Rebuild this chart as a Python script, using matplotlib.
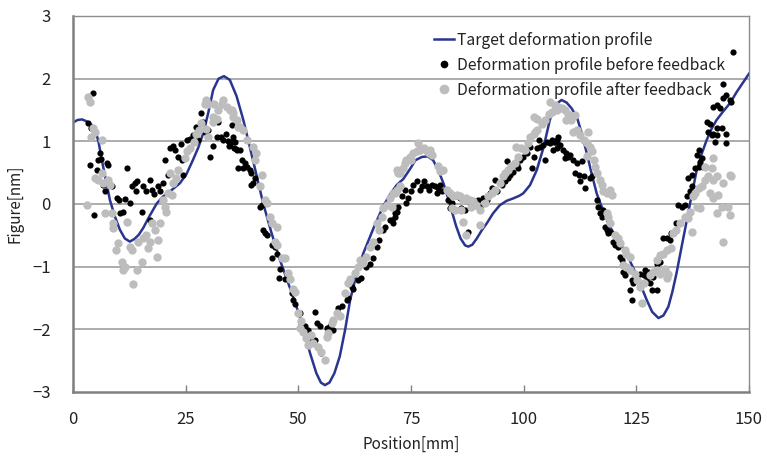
import matplotlib
matplotlib.use("Agg")
import matplotlib.pyplot as plt
from matplotlib.lines import Line2D

plt.rcParams['font.family'] = ['Noto Sans CJK JP', 'DejaVu Sans']

# Target deformation profile
target_x = [0, 1, 2, 3, 4, 4.9, 5.7, 6.4, 7.3, 8.2, 9.3, 10.4, 11.5, 12.6, 13.6, 14.6, 15.6, 17, 18.6, 20,
            21.5, 23.7, 25.2, 26.6, 27.8, 28.9, 30, 31.1, 32.3, 33.5, 34.8, 36.3, 37.8, 40, 42.2, 44, 45.9,
            47.8, 49.6, 51.1, 52.6, 54, 55, 55.9, 56.9, 58, 59.2, 60.4, 61.5, 62.9, 64.4, 66.6, 68.8, 70.5,
            71.8, 73.3, 74.8, 76, 77.4, 78.7, 79.9, 81, 82.2, 83.2, 84, 85, 86, 87, 87.7, 88.6, 89.6, 90.7,
            91.8, 93.2, 94.7, 96.2, 97.7, 99, 99.9, 101.4, 102.9, 104.4, 105.8, 107, 108.4, 109.5, 110.6,
            111.8, 113, 114, 115.1, 116.2, 117.6, 119.1, 121, 122.8, 124.5, 126, 127.3, 128.5, 129.9, 131,
            132.1, 133, 133.9, 135, 136.2, 137.3, 138.4, 139.5, 140.6, 141.7, 142.8, 144.3, 145.8, 147.2,
            148.6, 150]
target_y = [1.30, 1.34, 1.35, 1.32, 1.27, 1.2, 0.98, 0.70, 0.38, 0.06, -0.2, -0.41, -0.55, -0.60, -0.56,
            -0.49, -0.38, -0.19, 0.01, 0.12, 0.2, 0.33, 0.48, 0.7, 0.9, 1.13, 1.45, 1.82, 2.0, 2.04, 1.98,
            1.72, 1.34, 0.68, 0.01, -0.45, -0.89, -1.27, -1.64, -1.98, -2.38, -2.7, -2.85, -2.89, -2.85,
            -2.7, -2.43, -2.0, -1.53, -1.12, -0.79, -0.4, -0.04, 0.17, 0.3, 0.4, 0.56, 0.7, 0.75, 0.76,
            0.70, 0.55, 0.33, 0.1, -0.1, -0.35, -0.55, -0.66, -0.68, -0.65, -0.55, -0.42, -0.31, -0.15,
            -0.02, 0.05, 0.09, 0.13, 0.17, 0.3, 0.54, 0.9, 1.34, 1.58, 1.66, 1.62, 1.53, 1.39, 1.1, 0.81,
            0.48, 0.17, -0.1, -0.36, -0.58, -0.79, -1.05, -1.3, -1.53, -1.72, -1.82, -1.78, -1.64, -1.4,
            -1.11, -0.7, -0.26, 0.15, 0.54, 0.8, 1.02, 1.2, 1.34, 1.48, 1.61, 1.78, 1.93, 2.08]

# Deformation profile before feedback
before_x = [4.4, 3.4, 4.1, 6.0, 5.6, 3.8, 6.3, 7.5, 7.8, 5.3, 6.7, 7.1, 8.6, 9.7, 10.1, 11.9, 11.5, 12.6,
            11.2, 10.4, 4.7, 15.2, 13.0, 13.8, 14.2, 14.0, 15.6, 16.3, 17.1, 17.5, 17.9, 18.9, 19.2, 17.1,
            20.0, 20.4, 21.1, 21.5, 22.3, 22.7, 23.4, 24.1, 24.5, 24.0, 25.2, 25.9, 26.6, 27.4, 27.7, 28.5,
            28.9, 29.2, 29.9, 30.4, 31.1, 31.9, 32.2, 32.9, 33.3, 33.9, 34.3, 34.7, 35.4, 35.8, 36.2, 36.7,
            35.2, 35.6, 36.0, 36.3, 34.8, 37.1, 37.4, 38.2, 38.5, 37.8, 39.3, 39.6, 40.0, 40.4, 39.6,
            41.9, 41.5, 42.2, 42.6, 43.0, 44.1, 44.8, 44.1, 45.2, 45.9, 45.6, 47.1, 48.5, 48.9, 49.2,
            50.4, 50.7, 51.5, 52.2, 52.9, 52.6, 53.7, 54.1, 54.8, 54.4, 55.1, 53.7, 56.3, 57.0, 57.8,
            58.9, 59.6, 60.7, 61.0, 61.8, 62.2, 63.3, 63.8, 65.1, 65.9, 66.6, 67.4, 67.8, 68.8, 69.2,
            70.3, 71.1, 71.4, 71.8, 70.7, 71.5, 72.2, 72.9, 73.6, 74.4, 74.0, 75.1, 75.5, 76.3, 77.0,
            77.4, 77.8, 78.5, 78.9, 79.6, 80.4, 81.1, 81.4, 81.8, 80.7, 83.3, 84.0, 83.7, 85.1, 85.8,
            86.6, 86.2, 87.0, 87.7, 88.4, 89.2, 89.9, 90.3, 91.0, 91.8, 92.5, 92.9, 93.6, 94.0, 95.1,
            95.8, 96.2, 96.6, 97.0, 97.7, 98.5, 98.8, 99.2, 99.9, 100.7, 101.4, 101.8, 102.2, 102.9,
            103.7, 103.3, 104.4, 105.2, 105.9, 106.7, 107.4, 107.8, 104.8, 106.2, 106.9, 107.6, 108.0,
            107.3, 106.5, 108.8, 109.5, 110.3, 109.1, 109.8, 111.0, 111.8, 112.9, 111.4, 112.2, 113.3,
            112.5, 113.6, 114.7, 115.1, 116.2, 116.5, 116.9, 117.3, 117.6, 118.0, 118.4, 118.7, 119.1,
            119.9, 120.3, 120.6, 121.0, 121.4, 121.8, 122.1, 122.5, 123.2, 124.0, 124.7, 124.3, 123.6,
            124.0, 125.8, 126.6, 127.3, 126.9, 127.6, 128.0, 128.4, 129.5, 128.7, 129.5, 130.2, 131.0,
            131.7, 132.5, 132.8, 133.9, 134.3, 135.1, 135.8, 136.2, 136.9, 137.3, 136.5, 137.3, 138.0,
            138.8, 139.1, 139.5, 139.9, 138.4, 138.8, 142.4, 142.8, 140.6, 141.3, 140.9, 141.7, 142.0,
            142.8, 143.9, 145.0, 142.1, 142.8, 143.6, 144.3, 145.0, 145.7, 146.1, 144.3, 146.5, 145.0]
before_y = [1.77, 1.29, 1.21, 0.81, 0.70, 0.62, 0.72, 0.65, 0.62, 0.54, 0.30, 0.20, 0.28, 0.09, 0.07,
            0.57, 0.08, 0.01, -0.12, -0.15, -0.18, -0.12, 0.28, 0.33, 0.36, 0.20, 0.28, 0.21, 0.38, 0.22,
            0.16, 0.28, 0.20, -0.26, 0.33, 0.70, 0.46, 0.89, 0.92, 0.86, 0.75, 0.70, 0.46, 0.96, 1.02,
            1.04, 1.10, 1.23, 1.02, 1.45, 1.31, 1.15, 1.18, 0.75, 0.93, 1.07, 1.31, 1.07, 1.02, 1.12,
            1.00, 0.93, 1.00, 0.90, 0.88, 0.57, 1.26, 1.07, 0.99, 0.86, 0.96, 0.86, 0.70, 0.65, 0.59,
            0.57, 0.54, 0.49, 0.33, 0.41, 0.30, -0.02, -0.04, -0.41, -0.46, -0.49, -0.65, -0.68, -0.86,
            -0.79, -1.03, -1.18, -1.20, -1.42, -1.53, -1.59, -1.74, -1.90, -1.95, -2.01, -2.12, -2.14,
            -1.72, -1.90, -1.95, -2.28, -2.38, -2.17, -1.98, -1.95, -2.01, -1.66, -1.63, -1.53, -1.50,
            -1.32, -1.36, -1.21, -1.18, -1.00, -0.96, -0.86, -0.68, -0.57, -0.41, -0.36, -0.26, -0.31,
            -0.15, -0.12, -0.26, -0.20, -0.04, 0.12, 0.22, 0.09, 0.01, 0.20, 0.30, 0.36, 0.22, 0.28,
            0.36, 0.28, 0.22, 0.30, 0.28, 0.25, 0.30, 0.20, 0.17, 0.06, 0.01, -0.06, 0.12, 0.09, 0.06,
            -0.07, -0.10, -0.44, -0.01, 0.04, 0.06, -0.04, 0.09, 0.06, 0.17, 0.25, 0.38, 0.20, 0.30,
            0.36, 0.68, 0.41, 0.46, 0.51, 0.62, 0.57, 0.70, 0.75, 0.81, 0.91, 0.57, 0.75, 0.89, 0.91,
            1.02, 0.94, 0.99, 0.97, 0.99, 1.02, 0.94, 0.70, 1.02, 0.99, 1.07, 0.94, 0.89, 0.86, 0.86,
            0.81, 0.78, 0.73, 0.75, 0.70, 0.65, 0.68, 0.49, 0.46, 0.44, 0.36, 0.25, 0.41, 0.44, 0.06,
            -0.04, -0.15, -0.20, -0.10, -0.36, -0.41, -0.46, -0.44, -0.60, -0.65, -0.63, -0.68, -0.84,
            -0.89, -1.08, -1.13, -1.05, -1.21, -1.18, -1.26, -1.37, -1.53, -1.11, -1.13, -1.18, -1.05,
            -1.08, -1.26, -1.37, -1.37, -1.16, -0.95, -0.92, -0.55, -0.55, -0.57, -0.46, -0.31, -0.02,
            -0.04, -0.02, 0.12, 0.20, 0.28, 0.41, 0.46, 0.57, 0.59, 0.67, 0.73, 0.59, 0.78, 0.86, 0.99,
            1.10, 1.31, 1.28, 1.15, 1.10, 1.12, 1.21, 1.21, 1.12, 1.55, 1.58, 1.53, 1.69, 1.74, 1.66,
            1.63, 1.92, 2.43, 0.97]

# Deformation profile after feedback
after_x = [3.4, 3.8, 4.5, 4.9, 6.4, 4.1, 3.0, 4.9, 5.6, 6.4, 6.7, 7.8, 8.2, 7.1, 8.6, 8.9, 8.9, 11.9,
           10.0, 9.6, 10.8, 11.2, 11.5, 13.0, 12.6, 13.4, 14.1, 15.2, 14.5, 15.6, 16.3, 16.6, 17.0, 18.2,
           18.9, 18.6, 19.3, 17.5, 20.4, 20.7, 20.0, 21.1, 21.9, 22.2, 22.9, 23.3, 21.5, 24.8, 25.2, 25.9,
           26.8, 27.3, 28.0, 28.5, 29.6, 29.9, 29.3, 29.6, 31.1, 31.9, 31.1, 32.2, 33.0, 33.3, 34.1, 34.9,
           35.6, 36.3, 36.7, 29.9, 31.3, 35.2, 35.6, 37.1, 37.8, 38.5, 40.0, 40.7, 40.4, 41.9, 41.5, 42.6,
           43.0, 43.7, 44.1, 45.2, 44.8, 45.2, 46.3, 47.1, 47.8, 48.1, 48.9, 49.2, 50.0, 50.7, 50.4, 51.1,
           51.8, 52.2, 52.9, 53.3, 54.4, 55.1, 55.9, 56.3, 56.6, 57.4, 57.8, 58.5, 59.2, 60.3, 61.0, 61.4,
           62.5, 63.3, 63.6, 64.4, 65.1, 65.9, 66.6, 67.4, 67.8, 68.5, 68.8, 69.6, 70.3, 71.1, 71.8, 72.2,
           70.7, 71.5, 71.8, 72.6, 72.6, 73.3, 73.7, 74.0, 74.8, 75.5, 76.3, 77.0, 77.8, 78.5, 78.9, 79.3,
           79.6, 76.6, 75.1, 81.1, 81.4, 82.2, 82.9, 83.7, 84.4, 85.1, 85.8, 86.6, 87.3, 88.1, 88.8, 89.5,
           90.3, 88.4, 84.7, 84.0, 86.2, 86.6, 87.3, 90.3, 91.4, 92.1, 92.9, 93.6, 94.7, 95.5, 95.8, 96.6,
           97.3, 98.1, 98.8, 98.4, 99.5, 100.3, 101.0, 101.4, 102.2, 102.9, 102.2, 102.9, 104.1, 104.8,
           105.6, 106.3, 107.4, 102.6, 105.8, 106.9, 107.6, 108.4, 109.1, 109.8, 110.2, 109.5, 110.6,
           111.4, 111.0, 111.8, 112.5, 114.3, 113.3, 114.0, 114.7, 115.1, 114.0, 115.5, 115.8, 116.2,
           116.9, 117.3, 117.6, 118.4, 119.5, 119.1, 118.4, 118.7, 119.1, 120.3, 121.0, 121.4, 122.5,
           122.8, 123.6, 122.1, 122.8, 123.6, 124.7, 125.1, 125.8, 126.6, 126.2, 128.0, 128.7, 129.5,
           130.2, 131.3, 132.1, 131.7, 129.5, 130.2, 131.0, 131.7, 132.8, 133.2, 133.9, 134.7, 135.8,
           136.5, 137.3, 137.6, 138.0, 138.8, 138.4, 139.1, 139.5, 140.2, 141.0, 142.1, 142.8, 144.3,
           146.1, 145.7, 140.2, 141.7, 142.1, 141.3, 142.1, 143.2, 142.8, 143.9, 145.4, 145.7, 144.3,
           136.9]
after_y = [1.71, 1.63, 1.21, 1.15, 1.02, 1.07, -0.02, 0.41, 0.38, 0.49, 0.33, 0.38, 0.30, -0.15, -0.15,
           -0.31, -0.39, -0.28, -0.63, -0.73, -0.92, -1.05, -1.00, -0.73, -0.68, -1.27, -1.05, -0.92,
           -0.60, -0.55, -0.49, -0.70, -0.60, -0.41, -0.57, -0.84, -0.31, -0.31, -0.04, -0.12, 0.07,
           0.17, 0.14, 0.33, 0.41, 0.54, 0.49, 0.73, 0.84, 0.89, 0.99, 1.12, 1.18, 1.29, 1.20, 1.07,
           1.60, 1.66, 1.39, 1.36, 1.31, 1.50, 1.60, 1.66, 1.55, 1.50, 1.45, 1.34, 1.23, 1.60, 1.60,
           1.50, 1.39, 1.23, 1.18, 1.02, 0.91, 0.81, 0.70, 0.46, 0.28, 0.06, 0.01, -0.20, -0.31, -0.36,
           -0.60, -0.65, -0.86, -0.86, -1.10, -1.20, -1.36, -1.41, -1.74, -1.87, -1.98, -2.04, -2.14,
           -2.25, -2.09, -2.22, -2.28, -2.36, -2.49, -2.12, -2.06, -1.90, -1.85, -1.74, -1.79, -1.42,
           -1.26, -1.20, -1.10, -1.00, -0.89, -0.94, -0.84, -0.68, -0.60, -0.31, -0.41, -0.20, -0.07,
           -0.02, 0.09, 0.17, 0.54, 0.49, -0.04, 0.17, 0.22, 0.28, 0.49, 0.57, 0.65, 0.70, 0.75, 0.81,
           0.84, 0.86, 0.89, 0.84, 0.81, 0.86, 0.78, 0.97, 0.70, 0.60, 0.52, 0.55, 0.22, 0.17, 0.12,
           0.14, 0.12, 0.06, 0.09, 0.06, 0.04, -0.01, -0.10, -0.04, -0.10, -0.07, -0.10, -0.28, -0.49,
           -0.33, 0.01, 0.12, 0.17, 0.22, 0.33, 0.44, 0.49, 0.54, 0.60, 0.65, 0.75, 0.91, 0.89, 0.86,
           0.97, 1.07, 1.12, 1.18, 1.39, 1.36, 1.28, 1.34, 1.44, 1.47, 1.50, 1.15, 1.63, 1.58, 1.55,
           1.53, 1.50, 1.44, 1.39, 1.34, 1.34, 1.42, 1.15, 1.18, 1.10, 1.15, 1.02, 0.97, 0.91, 0.84,
           0.76, 0.70, 0.59, 0.49, 0.38, 0.30, 0.20, 0.17, 0.14, 0.22, -0.15, -0.20, -0.31, -0.49,
           -0.55, -0.63, -0.73, -0.79, -0.84, -0.97, -1.00, -1.05, -1.11, -1.21, -1.32, -1.26, -1.58,
           -1.13, -1.08, -1.05, -1.11, -1.03, -1.11, -1.18, -0.89, -0.81, -0.79, -0.73, -0.70, -0.47,
           -0.41, -0.31, -0.20, -0.23, -0.44, 0.12, 0.17, 0.25, -0.04, -0.07, 0.28, 0.38, 0.44, 0.38,
           0.44, 0.33, 0.44, 0.46, 0.59, 0.57, 0.73, 0.17, 0.09, 0.14, -0.15, -0.04, -0.04, -0.17,
           -0.60, -0.12]

x_ticks = [0, 25, 50, 75, 100, 125, 150]
y_ticks = [-3, -2, -1, 0, 1, 2, 3]

fig = plt.figure(figsize=(7.67, 4.59), dpi=100)
ax = fig.add_axes([73 / 767, 1 - 392 / 459, 676 / 767, 376 / 459])

ax.set_xlim(0, 150)
ax.set_ylim(-3, 3)
ax.set_xticks(x_ticks)
ax.set_yticks(y_ticks)
ax.set_yticklabels(['\u22123', '\u22122', '\u22121', '0', '1', '2', '3'])

for yv in y_ticks[1:-1]:
    ax.axhline(yv, color='#a6a6a6', lw=1.3, zorder=0)

line_color = '#2a3590'
ax.plot(target_x, target_y, color=line_color, lw=1.8, zorder=2)
ax.scatter(before_x, before_y, s=20, color='black', linewidths=0, zorder=3)
ax.scatter(after_x, after_y, s=36, color='#bdbdbd', linewidths=0, zorder=4)

for side in ['left', 'bottom']:
    ax.spines[side].set_color('#808080')
    ax.spines[side].set_linewidth(1.8)
for side in ['top', 'right']:
    ax.spines[side].set_color('#8c8c8c')
    ax.spines[side].set_linewidth(1.0)

ax.tick_params(axis='x', direction='in', length=5, width=1, color='#808080',
               labelsize=12, pad=14, labelcolor='#222222')
ax.tick_params(axis='y', length=0, labelsize=12, pad=16, labelcolor='#222222')

ax.set_xlabel('Position[mm]', fontsize=11, color='#222222', labelpad=5)
ax.set_ylabel('Figure[nm]', fontsize=11, color='#222222', labelpad=6)

handles = [
    Line2D([0], [0], color=line_color, lw=1.8),
    Line2D([0], [0], marker='o', color='black', lw=0, markersize=4.5),
    Line2D([0], [0], marker='o', color='#bdbdbd', lw=0, markersize=6),
]
labels = ['Target deformation profile', 'Deformation profile before feedback',
          'Deformation profile after feedback']
ax.legend(handles, labels, loc='upper left', bbox_to_anchor=(0.52, 0.983), frameon=False,
          fontsize=11.3, handlelength=1.3, handletextpad=0.15, labelspacing=0.5,
          borderaxespad=0.2, labelcolor='#222222')

fig.savefig('out.png', dpi=100)
